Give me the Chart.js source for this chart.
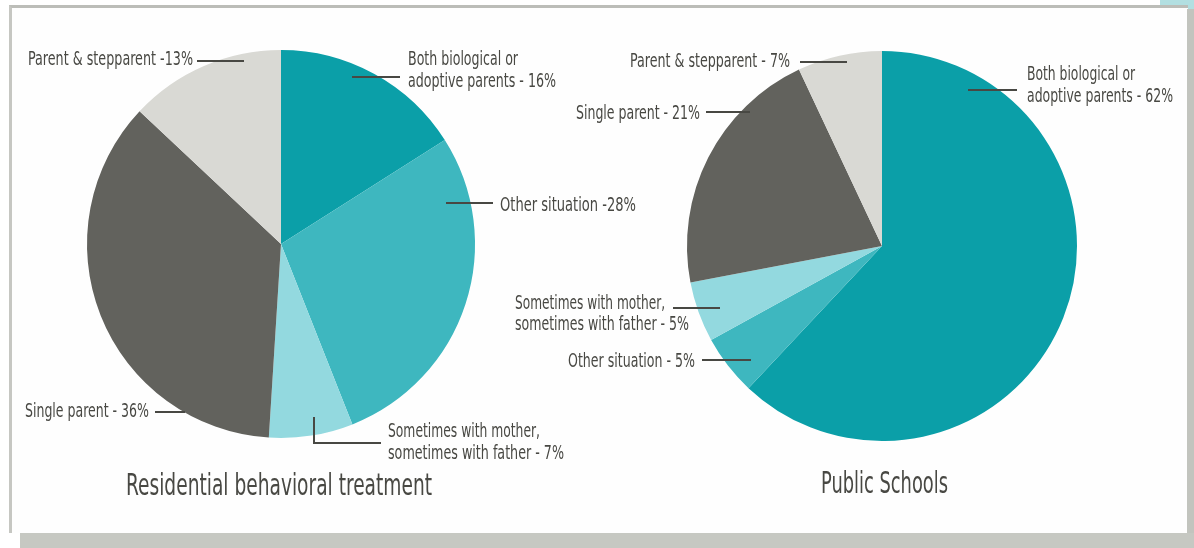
<!DOCTYPE html>
<html>
<head>
<meta charset="utf-8">
<script src="https://cdn.jsdelivr.net/npm/chart.js@4.4.1/dist/chart.umd.min.js"></script>
<style>
  html, body { margin: 0; padding: 0; background: #ffffff; }
  #stage { position: relative; width: 1194px; height: 548px; overflow: hidden; background: #ffffff; }
  .tab { position: absolute; left: 1160px; top: 0; width: 34px; height: 9px; background: #b2dfe1; }
  .panel { position: absolute; left: 9px; top: 5px; width: 1176px; height: 525px; background: #fefefe;
           border-top: 3px solid #bcbdb8; border-left: 3px solid #c6c7c2; }
  .shadow-r { position: absolute; left: 1187px; top: 9px; width: 7px; height: 539px; background: #c2c4be; }
  .shadow-b { position: absolute; left: 20px; top: 533px; width: 1174px; height: 15px; background: #c6c8c2; }
  canvas { position: absolute; left: 0; top: 0; }
</style>
</head>
<body>
<div id="stage">
  <div class="tab"></div>
  <div class="panel"></div>
  <div class="shadow-r"></div>
  <div class="shadow-b"></div>
  <canvas id="residential" width="1194" height="548"></canvas>
  <canvas id="schools" width="1194" height="548"></canvas>
</div>
<script>
// Living situation categories, in slice order (clockwise from 12 o'clock)
const categories = [
  'Both biological or adoptive parents',
  'Other situation',
  'Sometimes with mother, sometimes with father',
  'Single parent',
  'Parent & stepparent'
];
const residentialValues = [16, 28, 7, 36, 13];
const publicSchoolValues = [62, 5, 5, 21, 7];
const chartTitles = ['Residential behavioral treatment', 'Public Schools'];

const sliceColors = ['#0b9fa8', '#3eb7bf', '#93d9df', '#62625d', '#d9d9d4'];
const textColor = '#484843';
const fontStack = '"Liberation Sans Narrow", "DejaVu Sans Condensed", "Roboto", sans-serif';

// Callout layout: text lines (built from the values), baselines, widths and leader paths
function residentialCallouts(v) {
  return [
    { lines: ['Both biological or', 'adoptive parents - ' + v[0] + '%'], x: 408, y: [65, 87], w: [110, 148],
      leader: [[352, 77], [400, 77]] },
    { lines: ['Other situation -' + v[1] + '%'], x: 500, y: [211], w: [136],
      leader: [[446, 203], [493, 203]] },
    { lines: ['Sometimes with mother,', 'sometimes with father - ' + v[2] + '%'], x: 388, y: [437, 459], w: [152, 176],
      leader: [[314, 417], [314, 443], [381, 443]] },
    { lines: ['Single parent - ' + v[3] + '%'], x: 25, y: [417], w: [124],
      leader: [[155, 412], [185, 412]] },
    { lines: ['Parent & stepparent -' + v[4] + '%'], x: 28, y: [65], w: [165],
      leader: [[197, 61], [244, 61]] }
  ];
}
function schoolCallouts(v) {
  return [
    { lines: ['Both biological or', 'adoptive parents - ' + v[0] + '%'], x: 1027, y: [80, 102], w: [108, 146],
      leader: [[968, 90], [1017, 90]] },
    { lines: ['Other situation - ' + v[1] + '%'], x: 568, y: [367], w: [127],
      leader: [[702, 360], [751, 360]] },
    { lines: ['Sometimes with mother,', 'sometimes with father - ' + v[2] + '%'], x: 515, y: [309, 330], w: [150, 174],
      leader: [[673, 308], [720, 308]] },
    { lines: ['Single parent - ' + v[3] + '%'], x: 576, y: [119], w: [124],
      leader: [[706, 112], [750, 112]] },
    { lines: ['Parent & stepparent - ' + v[4] + '%'], x: 630, y: [67], w: [160],
      leader: [[800, 62], [847, 62]] }
  ];
}

const calloutPlugin = {
  id: 'callouts',
  afterDraw(chart, args, opts) {
    const ctx = chart.ctx;
    ctx.save();
    ctx.fillStyle = textColor;
    ctx.strokeStyle = textColor;
    ctx.lineWidth = 2;
    ctx.textBaseline = 'alphabetic';
    ctx.textAlign = 'left';
    ctx.font = '20px ' + fontStack;
    opts.items.forEach(item => {
      item.lines.forEach((t, i) => ctx.fillText(t, item.x, item.y[i], item.w[i]));
      ctx.beginPath();
      item.leader.forEach((p, i) => i ? ctx.lineTo(p[0], p[1]) : ctx.moveTo(p[0], p[1]));
      ctx.stroke();
    });
    ctx.font = '31px ' + fontStack;
    ctx.fillText(opts.title.text, opts.title.x, opts.title.y, opts.title.w);
    ctx.restore();
  }
};

function makePie(id, values, padding, callouts, title) {
  return new Chart(document.getElementById(id), {
    type: 'pie',
    data: {
      labels: categories,
      datasets: [{ data: values, backgroundColor: sliceColors, borderWidth: 0, hoverOffset: 0 }]
    },
    options: {
      responsive: false,
      animation: false,
      events: [],
      devicePixelRatio: 1,
      layout: { padding: padding },
      plugins: {
        legend: { display: false },
        tooltip: { enabled: false },
        callouts: { items: callouts, title: title }
      }
    },
    plugins: [calloutPlugin]
  });
}

makePie('residential', residentialValues,
  { left: 87, top: 50, right: 719, bottom: 110 },
  residentialCallouts(residentialValues),
  { text: chartTitles[0], x: 126, y: 495, w: 306 });

makePie('schools', publicSchoolValues,
  { left: 687, top: 51, right: 117, bottom: 107 },
  schoolCallouts(publicSchoolValues),
  { text: chartTitles[1], x: 821, y: 493, w: 127 });
</script>
</body>
</html>
